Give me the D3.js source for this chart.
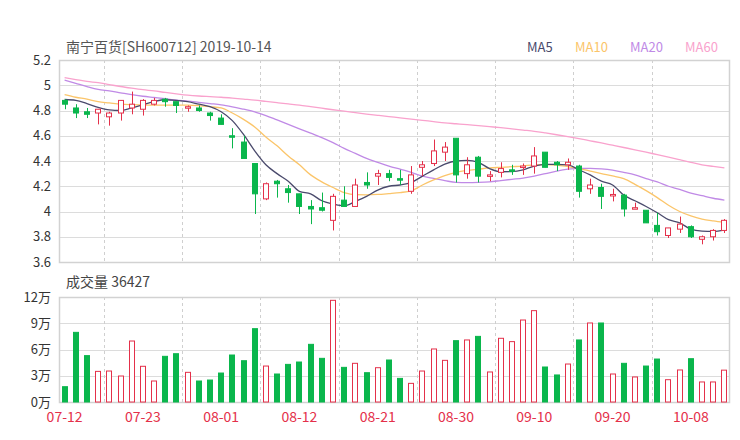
<!DOCTYPE html>
<html><head><meta charset="utf-8">
<script src="https://cdn.jsdelivr.net/npm/d3@7"></script>
<style>html,body{margin:0;padding:0;background:#fff;}svg{display:block;}</style>
</head><body><div id="chart"></div>
<script>
const title = "南宁百货[SH600712] 2019-10-14";
const volTitle = "成交量 36427";
const dates = ["07-12","07-15","07-16","07-17","07-18","07-19","07-22","07-23","07-24","07-25","07-26","07-29","07-30","07-31",
"08-01","08-02","08-05","08-06","08-07","08-08","08-09","08-12","08-13","08-14","08-15","08-16","08-19","08-20","08-21","08-22","08-23","08-26","08-27","08-28","08-29","08-30",
"09-02","09-03","09-04","09-05","09-06","09-09","09-10","09-11","09-12","09-16","09-17","09-18","09-19","09-20","09-23","09-24","09-25","09-26","09-27","09-30",
"10-08","10-09","10-10","10-11"];
const open  = [4.88,4.82,4.79,4.78,4.75,4.78,4.82,4.81,4.85,4.89,4.87,4.82,4.82,4.78,4.74,4.60,4.55,4.38,4.10,4.24,4.18,4.14,4.04,4.03,3.93,4.09,4.04,4.23,4.28,4.30,4.26,4.16,4.35,4.38,4.47,4.58,4.30,4.43,4.28,4.31,4.33,4.35,4.36,4.47,4.39,4.37,4.36,4.18,4.19,4.125,4.13,4.02,4.01,3.89,3.81,3.86,3.88,3.78,3.80,3.85];
const close = [4.85,4.78,4.77,4.81,4.78,4.88,4.85,4.88,4.88,4.87,4.84,4.83,4.80,4.76,4.69,4.59,4.42,4.14,4.22,4.22,4.15,4.04,4.02,4.01,4.12,4.04,4.21,4.21,4.30,4.27,4.25,4.29,4.37,4.48,4.51,4.29,4.37,4.28,4.29,4.34,4.33,4.36,4.44,4.35,4.37,4.39,4.16,4.21,4.12,4.135,4.02,4.03,3.91,3.84,3.87,3.90,3.80,3.80,3.85,3.93];
const high  = [4.89,4.85,4.82,4.81,4.79,4.88,4.95,4.89,4.90,4.90,4.87,4.84,4.84,4.79,4.77,4.66,4.60,4.38,4.23,4.25,4.21,4.14,4.09,4.15,4.14,4.20,4.26,4.31,4.33,4.33,4.33,4.36,4.40,4.57,4.55,4.58,4.43,4.44,4.32,4.39,4.37,4.38,4.51,4.47,4.40,4.42,4.37,4.26,4.22,4.18,4.14,4.07,4.01,3.99,3.87,3.96,3.89,3.81,3.86,3.94];
const low   = [4.81,4.74,4.74,4.69,4.68,4.72,4.77,4.76,4.84,4.83,4.78,4.79,4.79,4.72,4.69,4.50,4.42,3.98,4.09,4.11,4.07,3.98,3.90,4.00,3.85,4.04,4.04,4.18,4.21,4.24,4.21,4.14,4.28,4.36,4.40,4.23,4.26,4.23,4.24,4.27,4.29,4.29,4.30,4.35,4.32,4.33,4.11,4.14,4.02,4.08,3.96,4.02,3.91,3.81,3.79,3.83,3.79,3.74,3.77,3.83];
const volume = [1.75,7.96,5.30,3.50,3.54,2.97,6.97,4.08,2.40,5.22,5.52,3.39,2.40,2.51,3.31,5.37,4.72,8.38,4.11,3.20,4.30,4.57,6.59,4.99,11.62,3.96,4.42,3.35,3.92,4.80,2.70,2.13,3.54,6.06,4.76,7.01,7.09,7.50,3.43,7.28,6.90,9.37,10.44,4.00,3.09,4.34,7.09,9.03,9.03,3.20,4.42,2.86,4.11,4.91,2.55,3.66,4.95,2.29,2.29,3.64];
const ma5  = [4.887,4.88,4.855,4.825,4.805,4.80,4.82,4.845,4.87,4.885,4.88,4.87,4.85,4.83,4.79,4.72,4.61,4.48,4.37,4.30,4.24,4.16,4.14,4.085,4.06,4.045,4.08,4.12,4.17,4.20,4.21,4.23,4.28,4.33,4.375,4.40,4.405,4.39,4.34,4.315,4.316,4.33,4.36,4.374,4.374,4.37,4.33,4.29,4.24,4.21,4.13,4.085,4.04,3.99,3.935,3.91,3.86,3.845,3.842,3.853];
const ma10 = [4.926,4.905,4.89,4.87,4.86,4.85,4.846,4.844,4.842,4.842,4.842,4.842,4.838,4.83,4.82,4.78,4.73,4.67,4.59,4.52,4.44,4.37,4.29,4.235,4.19,4.15,4.133,4.132,4.135,4.142,4.15,4.163,4.21,4.25,4.285,4.31,4.325,4.335,4.345,4.35,4.355,4.36,4.37,4.372,4.368,4.355,4.34,4.32,4.30,4.282,4.26,4.215,4.165,4.11,4.05,4.00,3.965,3.94,3.925,3.913];
const ma20 = [5.04,5.015,4.99,4.968,4.955,4.94,4.925,4.913,4.903,4.893,4.882,4.875,4.865,4.855,4.845,4.829,4.81,4.79,4.76,4.725,4.69,4.655,4.62,4.585,4.545,4.50,4.46,4.42,4.39,4.36,4.335,4.31,4.28,4.262,4.245,4.23,4.228,4.23,4.235,4.245,4.255,4.265,4.28,4.30,4.32,4.335,4.342,4.342,4.338,4.328,4.31,4.29,4.26,4.235,4.20,4.175,4.145,4.125,4.105,4.09];
const ma60 = [5.06,5.045,5.03,5.02,5.005,4.99,4.977,4.965,4.955,4.943,4.932,4.922,4.915,4.91,4.905,4.898,4.89,4.882,4.872,4.862,4.852,4.842,4.83,4.818,4.806,4.795,4.783,4.772,4.762,4.752,4.742,4.732,4.722,4.712,4.702,4.695,4.688,4.68,4.672,4.664,4.655,4.645,4.635,4.622,4.608,4.593,4.577,4.56,4.543,4.525,4.507,4.489,4.47,4.45,4.43,4.41,4.39,4.37,4.357,4.345];
const priceTicks = [3.6,3.8,4,4.2,4.4,4.6,4.8,5,5.2];
const volTicks = [0,3,6,9,12];
const dateTicks = ["07-12","07-23","08-01","08-12","08-21","08-30","09-10","09-20","10-08"];
const maNames = ["MA5","MA10","MA20","MA60"];
const maColors = ["#4a4a6c","#fbc56a","#c08ae6","#f9a2cd"];

const W = 740, H = 440;
const L = 59, R = 730;
const RED = "#e4304a", GREEN = "#0ab64c";
const svg = d3.select("#chart").append("svg").attr("width", W).attr("height", H)
  .style("font-family", "'Noto Sans CJK SC','Noto Sans',sans-serif");

const x = d3.scaleBand().domain(dates).range([L, R]).padding(0);
const bw = x.bandwidth();
const cx = d => Math.round(x(d) + bw / 2) + 0.5;
const y = d3.scaleLinear().domain([3.6, 5.2]).range([262, 60]);
const yv = d3.scaleLinear().domain([0, 12]).range([402, 297]);

const sepX = dateTicks.slice(0, -1).map((d, i) => Math.round((x(d) + x(dateTicks[i + 1])) / 2 + bw / 2) + 0.5);

function panel(ys, ticks, fmt) {
  const g = svg.append("g");
  g.selectAll("line.h").data(ticks.slice(1, -1)).join("line")
    .attr("x1", L).attr("x2", R).attr("y1", d => Math.round(ys(d)) + 0.5).attr("y2", d => Math.round(ys(d)) + 0.5)
    .attr("stroke", "#dcdcdc").attr("stroke-width", 1);
  g.selectAll("line.v").data(sepX).join("line")
    .attr("x1", d => d).attr("x2", d => d).attr("y1", ys.range()[1]).attr("y2", ys.range()[0])
    .attr("stroke", "#cfcfcf").attr("stroke-dasharray", "3,3");
  g.append("rect").attr("x", L + 0.5).attr("y", Math.round(ys.range()[1]) + 0.5)
    .attr("width", R - L - 1).attr("height", Math.round(ys.range()[0]) - Math.round(ys.range()[1]))
    .attr("fill", "none").attr("stroke", "#d2d2d2").attr("stroke-width", 1.5);
  g.selectAll("text").data(ticks).join("text")
    .attr("x", 51).attr("y", d => ys(d)).attr("dy", "0.36em").attr("text-anchor", "end")
    .attr("font-size", 13).attr("fill", "#333").text(fmt);
}
panel(y, priceTicks, d => String(d));
panel(yv, volTicks, d => d + "万");

svg.append("text").attr("x", 66).attr("y", 52).attr("font-size", 14).attr("fill", "#555").text(title);
svg.append("text").attr("x", 66).attr("y", 287).attr("font-size", 14).attr("fill", "#444").text(volTitle);

const legX = [527, 575, 630, 685];
svg.selectAll("text.leg").data(maNames).join("text").attr("class", "leg")
  .attr("x", (d, i) => legX[i]).attr("y", 52).attr("font-size", 13)
  .attr("fill", (d, i) => maColors[i]).text(d => d);

const lineGen = d3.line().x((d, i) => x(dates[i]) + bw / 2).y(d => y(d)).curve(d3.curveMonotoneX);
[ma60, ma20, ma10, ma5].forEach((arr, k) => {
  const col = maColors[3 - k];
  svg.append("path").attr("d", lineGen(arr)).attr("fill", "none").attr("stroke", col).attr("stroke-width", 1.3);
});

const idx = d3.range(dates.length);
const isUp = i => close[i] > open[i] || (close[i] === open[i] && i > 0 && close[i] >= close[i - 1]);
const cw = 5;
const cg = svg.append("g");
cg.selectAll("line").data(idx).join("line")
  .attr("x1", i => cx(dates[i])).attr("x2", i => cx(dates[i]))
  .attr("y1", i => y(high[i])).attr("y2", i => y(low[i]))
  .attr("stroke", i => isUp(i) ? RED : GREEN).attr("stroke-width", 1);
cg.selectAll("rect").data(idx).join("rect")
  .attr("x", i => cx(dates[i]) - 3)
  .attr("y", i => y(Math.max(open[i], close[i])))
  .attr("width", cw)
  .attr("height", i => Math.max(1.5, y(Math.min(open[i], close[i])) - y(Math.max(open[i], close[i]))))
  .attr("fill", i => isUp(i) ? "#fff" : GREEN)
  .attr("stroke", i => isUp(i) ? RED : GREEN).attr("stroke-width", 1);

const vUp = i => close[i] >= open[i];
svg.append("g").selectAll("rect").data(idx).join("rect")
  .attr("x", i => cx(dates[i]) - 3)
  .attr("y", i => yv(volume[i]))
  .attr("width", cw)
  .attr("height", i => yv(0) - yv(volume[i]))
  .attr("fill", i => vUp(i) ? "#fff" : GREEN)
  .attr("stroke", i => vUp(i) ? RED : GREEN).attr("stroke-width", 1);

svg.selectAll("text.dt").data(dateTicks).join("text").attr("class", "dt")
  .attr("x", d => x(d) + bw / 2).attr("y", 422).attr("text-anchor", "middle")
  .attr("font-size", 14).attr("fill", RED).text(d => d);
</script></body></html>
